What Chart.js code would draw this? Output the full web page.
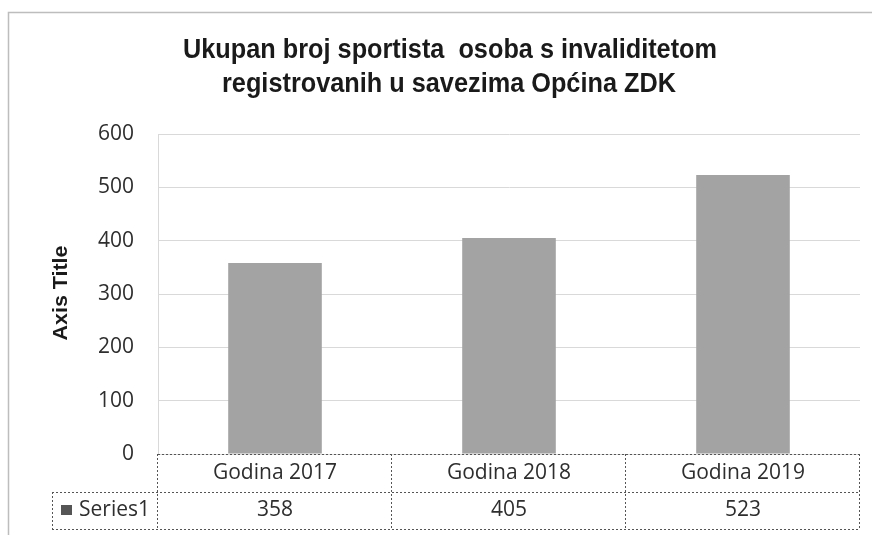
<!DOCTYPE html>
<html><head><meta charset="utf-8">
<script src="https://cdn.jsdelivr.net/npm/chart.js@4.4.0/dist/chart.umd.min.js"></script>
<style>html,body{margin:0;padding:0;background:#fff}#wrap{width:876px;height:535px;position:relative}</style>
</head><body><div id="wrap"><canvas id="c" width="876" height="535"></canvas></div>
<script>
const categories = ['Godina 2017', 'Godina 2018', 'Godina 2019'];
const seriesName = 'Series1';
const series1 = [358, 405, 523];
const yTickValues = [0, 100, 200, 300, 400, 500, 600];
const titleLines = ['Ukupan broj sportista  osoba s invaliditetom', 'registrovanih u savezima Općina ZDK'];
const axisTitleText = 'Axis Title';

const BAR_COLOR = '#a3a3a3';
const TEXT_COLOR = '#2e2e2e';
const TITLE_FAMILY = "'Liberation Sans', Arial, sans-serif";
const BODY_FAMILY = "'Open Sans', 'Noto Sans', sans-serif";

// draw text at given font, squeezed horizontally by factor sx
function drawSqueezed(ctx, text, x, y, font, sx) {
  ctx.save();
  ctx.translate(x, y);
  ctx.scale(sx, 1);
  ctx.font = font;
  ctx.fillText(text, 0, 0);
  ctx.restore();
}

const decor = {
  id: 'decor',
  afterDraw(chart) {
    const ctx = chart.ctx;
    const area = chart.chartArea;
    const xs = chart.scales.x;
    ctx.save();
    // outer frame
    ctx.strokeStyle = '#bdbdbd';
    ctx.lineWidth = 1.5;
    ctx.beginPath();
    ctx.moveTo(8.5, 535); ctx.lineTo(8.5, 12.5); ctx.lineTo(872, 12.5);
    ctx.stroke();

    // title
    const tFont = 'bold 27px ' + TITLE_FAMILY;
    ctx.font = tFont;
    const w0 = ctx.measureText(titleLines[0]).width;
    const sx = 534 / w0;
    ctx.fillStyle = '#1a1a1a';
    ctx.textAlign = 'center';
    ctx.textBaseline = 'alphabetic';
    drawSqueezed(ctx, titleLines[0], 450, 58, tFont, sx);
    drawSqueezed(ctx, titleLines[1], 449, 92, tFont, sx);

    // axis title (rotated)
    const aFont = 'bold 21px ' + TITLE_FAMILY;
    ctx.font = aFont;
    const aw = ctx.measureText(axisTitleText).width;
    ctx.save();
    ctx.translate(61, 293);
    ctx.rotate(-Math.PI / 2);
    ctx.scale(95 / aw, 1);
    ctx.font = aFont;
    ctx.textBaseline = 'middle';
    ctx.textAlign = 'center';
    ctx.fillText(axisTitleText, 0, 0);
    ctx.restore();

    // data table
    const n = categories.length;
    const catW = (area.right - area.left) / n;
    const top = area.bottom;
    const mid = top + 38;
    const bot = top + 75;
    const leftX = 52;
    ctx.strokeStyle = '#555';
    ctx.lineWidth = 1;
    ctx.setLineDash([2, 2]);
    ctx.beginPath();
    ctx.moveTo(area.left, top + 0.5); ctx.lineTo(area.right, top + 0.5);
    ctx.moveTo(leftX, mid + 0.5); ctx.lineTo(area.right, mid + 0.5);
    ctx.moveTo(leftX, bot + 0.5); ctx.lineTo(area.right, bot + 0.5);
    ctx.moveTo(leftX + 0.5, mid); ctx.lineTo(leftX + 0.5, bot);
    for (let i = 0; i <= n; i++) {
      const x = Math.round(area.left + i * catW) - 0.5;
      ctx.moveTo(x, top); ctx.lineTo(x, bot);
    }
    ctx.stroke();
    ctx.setLineDash([]);

    const bFont = '21px ' + BODY_FAMILY;
    ctx.font = bFont;
    const cw = ctx.measureText(categories[0]).width;
    const csx = Math.min(1, 125 / cw);
    ctx.fillStyle = TEXT_COLOR;
    ctx.textAlign = 'center';
    ctx.textBaseline = 'middle';
    for (let i = 0; i < n; i++) {
      const cx = xs.getPixelForValue(i);
      drawSqueezed(ctx, categories[i], cx, top + 19, bFont, csx);
      drawSqueezed(ctx, String(series1[i]), cx, mid + 18, bFont, 1);
    }
    // legend key
    ctx.fillStyle = '#555';
    ctx.fillRect(61, mid + 13, 11, 10);
    ctx.fillStyle = TEXT_COLOR;
    ctx.textAlign = 'left';
    ctx.font = bFont;
    const sw = ctx.measureText(seriesName).width;
    drawSqueezed(ctx, seriesName, 79, mid + 18, bFont, Math.min(1, 72 / sw));
    ctx.restore();
  }
};

new Chart(document.getElementById('c'), {
  type: 'bar',
  data: {
    labels: categories,
    datasets: [{
      label: seriesName,
      data: series1,
      backgroundColor: BAR_COLOR,
      borderWidth: 0,
      categoryPercentage: 1,
      barPercentage: 0.4
    }]
  },
  options: {
    responsive: false,
    animation: false,
    layout: { padding: { left: 0, right: 16, top: 134, bottom: 81 } },
    plugins: { legend: { display: false }, title: { display: false }, tooltip: { enabled: false } },
    scales: {
      x: { display: false },
      y: {
        min: 0, max: 600,
        afterFit(scale) { scale.width = 158; },
        afterBuildTicks(scale) { scale.ticks = yTickValues.map(v => ({ value: v })); },
        ticks: { padding: 24, color: TEXT_COLOR, font: { family: BODY_FAMILY, size: 21 } },
        grid: { color: '#d9d9d9', drawTicks: false },
        border: { display: true, color: '#d9d9d9' }
      }
    }
  },
  plugins: [decor]
});
</script>
</body></html>
